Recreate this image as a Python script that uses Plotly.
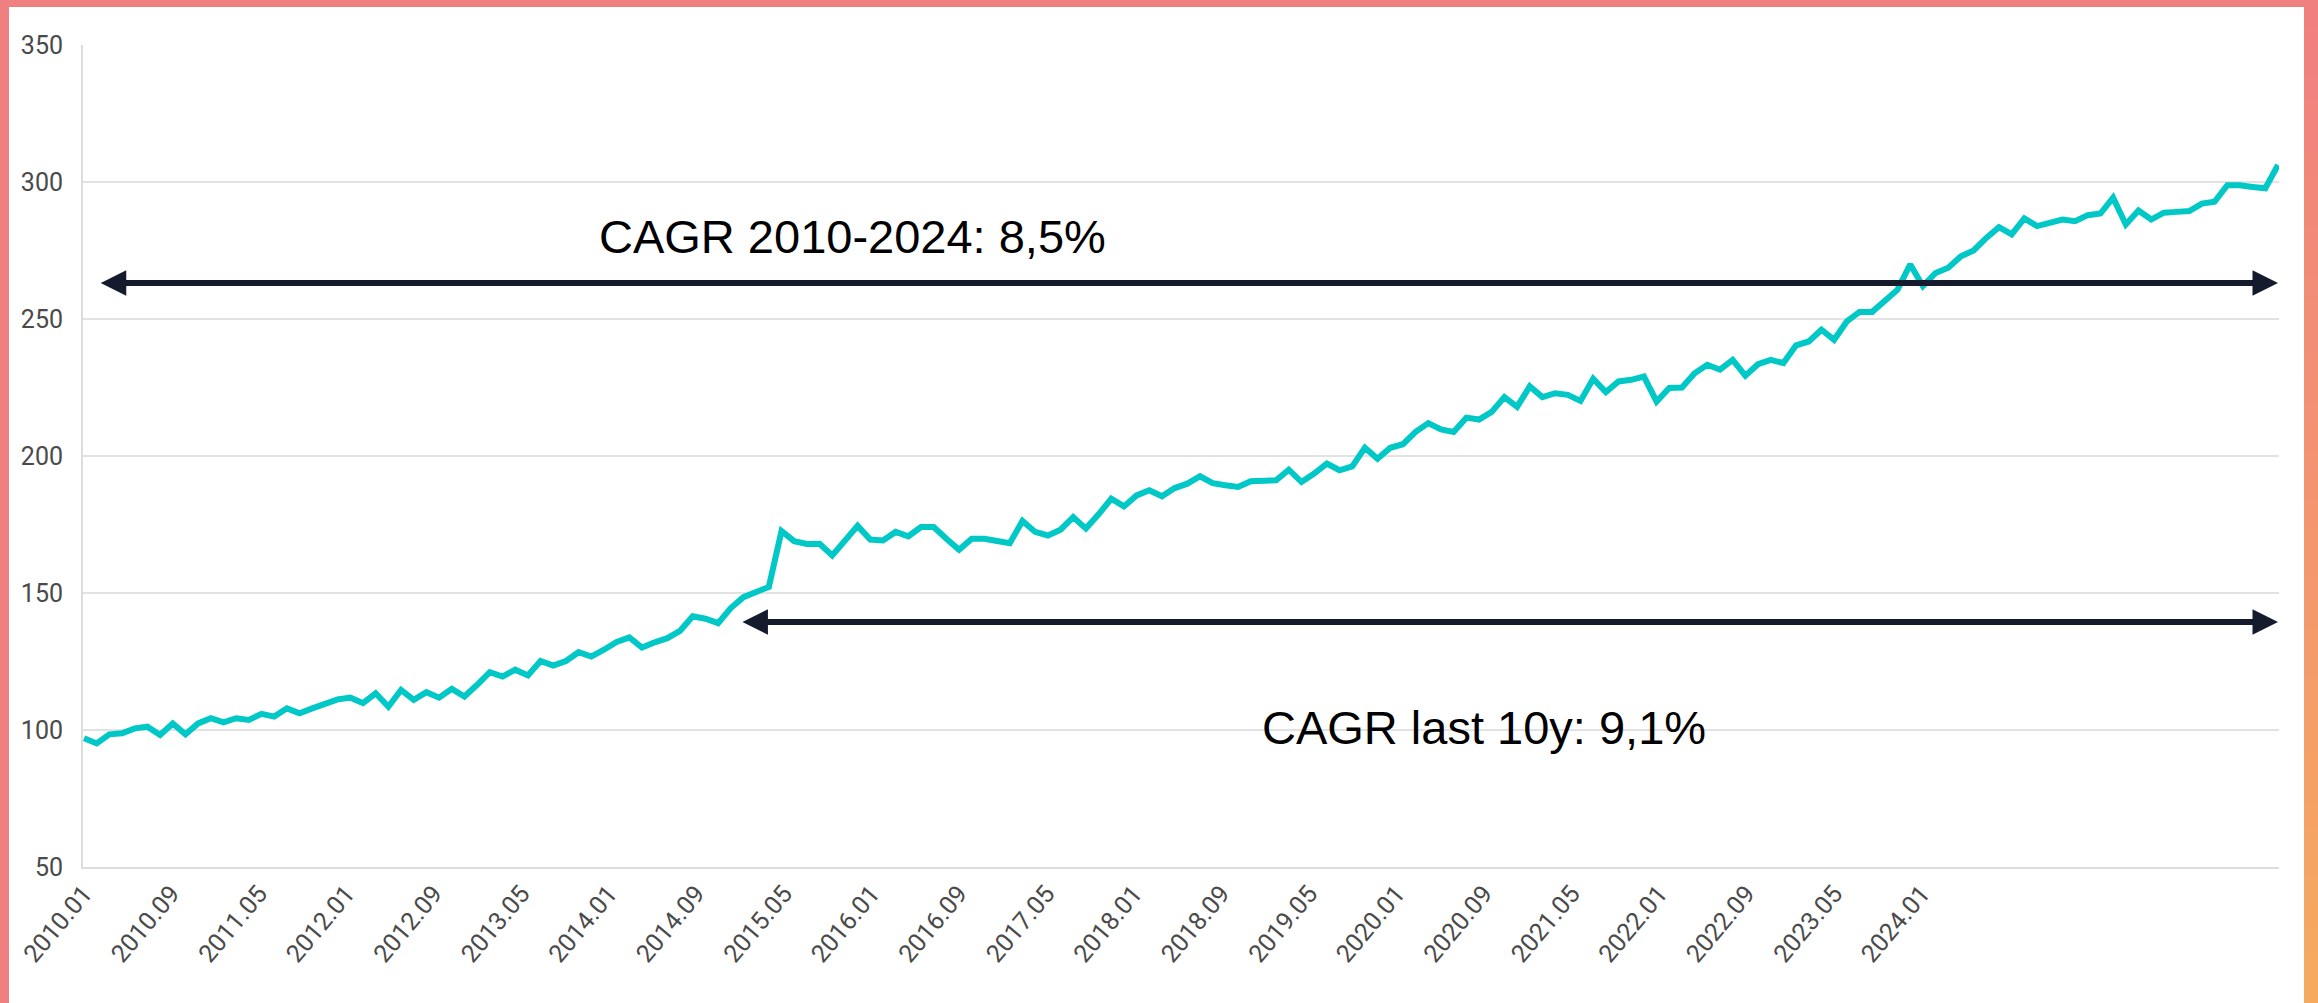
import plotly.graph_objects as go

# ---------------- data ----------------
index_values = [
    97.0, 95.1, 98.4, 98.8, 100.6, 101.2, 98.2, 102.4, 98.4, 102.4,
    104.3, 102.8, 104.3, 103.7, 105.9, 104.9, 107.9, 106.1, 107.9, 109.8,
    111.2, 111.8, 109.8, 113.4, 108.5, 114.6, 111.0, 113.8, 111.8, 115.0,
    112.2, 116.5, 121.1, 119.5, 122.0, 119.9, 125.2, 123.5, 125.2, 128.4,
    126.8, 129.3, 132.1, 133.8, 130.1, 132.0, 133.5, 136.2, 141.5, 140.6,
    139.0, 144.5, 148.5, 150.4, 152.2, 172.6, 168.9, 167.9, 168.0,
    163.7, 169.2, 174.5, 169.5, 169.2, 172.3, 170.7, 174.1, 174.1, 169.8,
    165.8, 169.8, 169.8, 169.0, 168.2, 176.3, 172.3, 171.0, 173.1, 177.7,
    173.5, 178.7, 184.4, 181.6, 185.6, 187.5, 185.3, 188.3, 189.9, 192.6,
    190.1, 189.3, 188.7, 190.8, 190.8, 191.1, 195.0, 190.5, 193.6, 197.2,
    194.8, 196.2, 203.0, 199.0, 203.0, 204.3, 208.8, 212.0, 209.7, 208.8,
    214.0, 213.3, 216.1, 221.5, 217.9, 225.4, 221.5,
    222.9, 222.3, 220.1, 228.2, 223.3, 227.2, 227.8, 229.0, 219.9, 224.8,
    225.0, 230.2, 233.3, 231.5, 235.1, 229.3, 233.5, 235.1, 233.9, 240.4,
    241.8, 246.1, 242.4, 249.1, 252.6, 252.6, 256.7, 260.7, 269.9, 262.0,
    266.8, 268.7, 272.9, 275.0, 279.6, 283.5, 280.9, 286.7, 283.9, 285.1,
    286.3, 285.7, 287.9, 288.5, 294.3, 284.5, 289.6, 286.3, 288.8, 289.1,
    289.4, 292.1, 292.8, 298.8, 298.8, 298.2, 297.7, 306.2,
]

tick_labels = [
    "2010.01", "2010.09", "2011.05", "2012.01", "2012.09", "2013.05",
    "2014.01", "2014.09", "2015.05", "2016.01", "2016.09", "2017.05",
    "2018.01", "2018.09", "2019.05", "2020.01", "2020.09", "2021.05",
    "2022.01", "2022.09", "2023.05", "2024.01",
]

y_ticks = [50, 100, 150, 200, 250, 300, 350]

cagr_full_text = "CAGR 2010-2024: 8,5%"
cagr_10y_text = "CAGR last 10y: 9,1%"

# ---------------- layout constants ----------------
W, H = 2318, 1003
L, R, T, B = 83, 2279, 45, 867          # plot area in pixels
LABEL_STEP = 6.9                         # points between x labels

x = list(range(len(index_values)))
n_last = len(index_values) - 1
px_per_pt = (2278 - 84) / n_last
x_min = -(84 - L) / px_per_pt
x_max = n_last + (R - 2278) / px_per_pt

LINE_COLOR = "#00C8C6"
ARROW_COLOR = "#141B2D"
TICK_FONT = dict(family="Roboto, DejaVu Sans, sans-serif", size=25, color="#4a4a4a")
TEXT_FONT = dict(family="Liberation Sans, Arial, sans-serif", size=47, color="#000000")


def pxx(px):
    return (px - L) / (R - L)


def pxy(py):
    return (B - py) / (B - T)


fig = go.Figure()
fig.add_trace(go.Scatter(
    x=x, y=index_values, mode="lines",
    line=dict(color=LINE_COLOR, width=6),
    showlegend=False, hoverinfo="y",
))

# ---------------- arrows and labels ----------------
arrow_common = dict(
    xref="x", yref="y", axref="x", ayref="y", text="", showarrow=True,
    arrowhead=2, startarrowhead=2, arrowside="end+start",
    arrowsize=0.85, startarrowsize=0.85, arrowwidth=6, arrowcolor=ARROW_COLOR,
)
arrow1_y = 263.1
arrow2_y = 139.4
annotations = [
    dict(x=n_last, y=arrow1_y, ax=1.2, ay=arrow1_y, **arrow_common),
    dict(x=n_last, y=arrow2_y, ax=51.8, ay=arrow2_y, **arrow_common),
    dict(x=pxx(852), y=pxy(236), xref="paper", yref="paper", text=cagr_full_text,
         showarrow=False, font=TEXT_FONT, xanchor="center", yanchor="middle"),
    dict(x=pxx(1484), y=pxy(727), xref="paper", yref="paper", text=cagr_10y_text,
         showarrow=False, font=TEXT_FONT, xanchor="center", yanchor="middle"),
]

# ---------------- decorative frame ----------------
FRAME_TOP = "#F08080"
shapes = [
    dict(type="rect", xref="paper", yref="paper", layer="above",
         x0=pxx(0), x1=pxx(W), y0=pxy(0), y1=pxy(7),
         fillcolor=FRAME_TOP, line=dict(width=0)),
    dict(type="rect", xref="paper", yref="paper", layer="above",
         x0=pxx(0), x1=pxx(9), y0=pxy(0), y1=pxy(H),
         fillcolor=FRAME_TOP, line=dict(width=0)),
]
c_top = (240, 128, 128)
c_bot = (245, 170, 96)
n_seg = 40
for i in range(n_seg):
    t = i / (n_seg - 1)
    col = tuple(round(a + (b - a) * t) for a, b in zip(c_top, c_bot))
    y0 = H * i / n_seg
    y1 = H * (i + 1) / n_seg + 1
    shapes.append(dict(
        type="rect", xref="paper", yref="paper", layer="above",
        x0=pxx(2304), x1=pxx(W), y0=pxy(y0), y1=pxy(y1),
        fillcolor="rgb(%d,%d,%d)" % col, line=dict(width=0)))

fig.update_layout(
    width=W, height=H,
    margin=dict(l=L, r=W - R, t=T, b=H - B),
    paper_bgcolor="white", plot_bgcolor="white",
    annotations=annotations, shapes=shapes,
    xaxis=dict(
        range=[x_min, x_max],
        tickvals=[k * LABEL_STEP for k in range(len(tick_labels))],
        ticktext=tick_labels, tickangle=-50, tickfont=TICK_FONT,
        showgrid=False, zeroline=False, showline=True,
        linecolor="#dcdcdc", linewidth=2, ticks="",
    ),
    yaxis=dict(
        range=[50, 350], tickvals=y_ticks, tickfont=TICK_FONT,
        showgrid=True, gridcolor="#e2e2e2", gridwidth=2, zeroline=False,
        showline=True, linecolor="#dcdcdc", linewidth=2, ticks="",
        ticklabelstandoff=13,
    ),
)

fig.write_html(
    "out.html",
    config={"displayModeBar": False},
    post_script="document.body.style.margin='0';document.body.style.overflow='hidden';",
)
